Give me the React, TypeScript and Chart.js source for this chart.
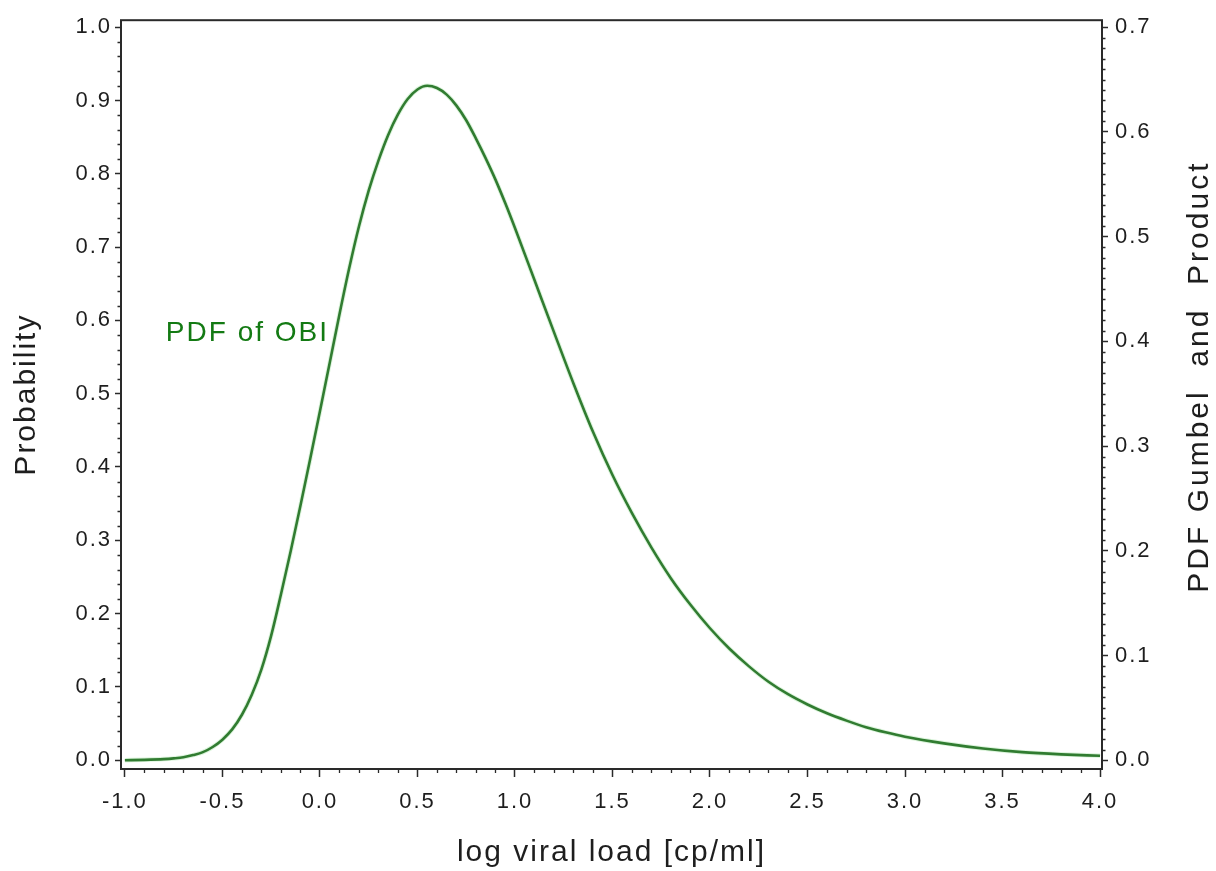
import React, { useEffect, useRef } from 'react';
import { Chart, registerables } from 'chart.js';

Chart.register(...registerables);

// ---- data ----
const LOG_VL = [
  -1.0, -0.9, -0.8, -0.75, -0.7, -0.65, -0.6, -0.55, -0.5, -0.45, -0.4, -0.35, -0.3, -0.25,
  -0.2, -0.15, -0.1, -0.05, 0.0, 0.05, 0.1, 0.15, 0.2, 0.25, 0.3, 0.35, 0.4, 0.45,
  0.5, 0.55, 0.6, 0.65, 0.7, 0.75, 0.8, 0.85, 0.9, 0.95,
  1.0, 1.1, 1.2, 1.3, 1.4, 1.5, 1.6, 1.7, 1.8, 1.9,
  2.0, 2.1, 2.2, 2.3, 2.4, 2.5, 2.6, 2.7, 2.8, 2.9,
  3.0, 3.2, 3.4, 3.6, 3.8, 4.0,
];
const PDF_OBI = [
  0.000, 0.0005, 0.0015, 0.0025, 0.004, 0.007, 0.011, 0.018, 0.028, 0.042, 0.062, 0.089, 0.124, 0.170,
  0.226, 0.285, 0.347, 0.411, 0.476, 0.542, 0.608, 0.671, 0.728, 0.777, 0.818, 0.853, 0.881, 0.902,
  0.915, 0.920, 0.917, 0.908, 0.893, 0.873, 0.848, 0.821, 0.792, 0.760,
  0.726, 0.655, 0.584, 0.514, 0.448, 0.389, 0.337, 0.290, 0.248, 0.212,
  0.180, 0.152, 0.128, 0.107, 0.090, 0.076, 0.064, 0.054, 0.045, 0.038,
  0.032, 0.023, 0.016, 0.011, 0.008, 0.006,
];

const X_TICKS = [-1.0, -0.5, 0.0, 0.5, 1.0, 1.5, 2.0, 2.5, 3.0, 3.5, 4.0];
const Y_TICKS = [0.0, 0.1, 0.2, 0.3, 0.4, 0.5, 0.6, 0.7, 0.8, 0.9, 1.0];
const Y1_TICKS = [0.0, 0.1, 0.2, 0.3, 0.4, 0.5, 0.6, 0.7];

const X_MIN = -1.02;
const X_MAX = 4.01;
const Y_MIN = -0.012;
const Y_MAX = 1.0095;
const RIGHT_FACTOR = 0.7;

const X_MINOR = { from: -1.0, step: 0.1, count: 50, every: 5 };
const Y_MINOR = { from: 0.0, step: 0.02, count: 50, every: 5 };
const Y1_MINOR = { from: 0.0, step: 0.01, count: 70, every: 10 };

const X_TITLE = 'log viral load [cp/ml]';
const Y_TITLE = 'Probability';
const Y1_TITLE = 'PDF Gumbel  and  Product';
const CURVE_LABEL = 'PDF of OBI';
const CURVE_LABEL_AT = { x: -0.79, y: 0.572 };

const FONT = "'Liberation Sans', Arial, Helvetica, sans-serif";
const INK = '#1e1e1e';
const AXIS = '#2a2a2a';
const GREEN_LINE = '#1d5f1d';
const GREEN_HALO = 'rgba(110, 210, 110, 0.25)';
const GREEN_TEXT = '#137a13';

const setSpacing = (ctx: any, v: string) => {
  try { ctx.letterSpacing = v; } catch (e) {}
};

const spacingPlugin = {
  id: 'spacing',
  beforeDraw(chart: any) { setSpacing(chart.ctx, '2px'); },
};

const decorPlugin = {
  id: 'decor',
  afterDraw(chart: any) {
    const { ctx, chartArea } = chart;
    const x = chart.scales.x;
    const y = chart.scales.y;
    const y1 = chart.scales.y1;
    ctx.save();
    // frame
    ctx.strokeStyle = AXIS;
    ctx.lineWidth = 2;
    ctx.strokeRect(chartArea.left, chartArea.top, chartArea.right - chartArea.left, chartArea.bottom - chartArea.top);

    // minor ticks
    ctx.lineWidth = 1.3;
    ctx.beginPath();
    for (let i = 0; i <= X_MINOR.count; i++) {
      if (i % X_MINOR.every === 0) continue;
      const px = Math.round(x.getPixelForValue(X_MINOR.from + i * X_MINOR.step)) + 0.5;
      ctx.moveTo(px, chartArea.bottom);
      ctx.lineTo(px, chartArea.bottom + 4);
    }
    for (let i = 0; i <= Y_MINOR.count; i++) {
      if (i % Y_MINOR.every === 0) continue;
      const py = Math.round(y.getPixelForValue(Y_MINOR.from + i * Y_MINOR.step)) + 0.5;
      ctx.moveTo(chartArea.left, py);
      ctx.lineTo(chartArea.left - 3.5, py);
    }
    for (let i = 0; i <= Y1_MINOR.count; i++) {
      if (i % Y1_MINOR.every === 0) continue;
      const py = Math.round(y1.getPixelForValue(Y1_MINOR.from + i * Y1_MINOR.step)) + 0.5;
      ctx.moveTo(chartArea.right, py);
      ctx.lineTo(chartArea.right + 3.5, py);
    }
    ctx.stroke();

    // curve label
    setSpacing(ctx, '2px');
    ctx.fillStyle = GREEN_TEXT;
    ctx.font = `28px ${FONT}`;
    ctx.textAlign = 'left';
    ctx.textBaseline = 'alphabetic';
    ctx.fillText(CURVE_LABEL, x.getPixelForValue(CURVE_LABEL_AT.x), y.getPixelForValue(CURVE_LABEL_AT.y));

    // right axis title (reads bottom-to-top)
    setSpacing(ctx, '3px');
    ctx.fillStyle = INK;
    ctx.font = `30px ${FONT}`;
    ctx.textAlign = 'center';
    ctx.textBaseline = 'middle';
    ctx.translate(y1.right - 16, (chartArea.top + chartArea.bottom) / 2 - 18);
    ctx.rotate(-Math.PI / 2);
    ctx.fillText(Y1_TITLE, 0, 0);
    ctx.restore();
    setSpacing(ctx, '0px');
  },
};

export default function App() {
  const ref = useRef<HTMLCanvasElement | null>(null);

  useEffect(() => {
    if (!ref.current) return;
    const points = LOG_VL.map((v, i) => ({ x: v, y: PDF_OBI[i] }));
    const tickFont = { family: FONT, size: 22 };
    const chart = new Chart(ref.current, {
      type: 'line',
      data: {
        datasets: [
          {
            label: 'halo',
            data: points,
            borderColor: GREEN_HALO,
            borderWidth: 4.5,
            pointRadius: 0,
            cubicInterpolationMode: 'monotone',
            yAxisID: 'y',
          },
          {
            label: CURVE_LABEL,
            data: points,
            borderColor: GREEN_LINE,
            borderWidth: 2.6,
            pointRadius: 0,
            cubicInterpolationMode: 'monotone',
            yAxisID: 'y',
          },
        ],
      },
      options: {
        animation: false,
        responsive: false,
        devicePixelRatio: 1,
        layout: { padding: { top: 13, left: 0, right: 0, bottom: 0 } },
        plugins: { legend: { display: false }, tooltip: { enabled: false } },
        scales: {
          x: {
            type: 'linear',
            min: X_MIN,
            max: X_MAX,
            afterBuildTicks: (s: any) => { s.ticks = X_TICKS.map((v) => ({ value: v })); },
            afterFit: (s: any) => { s.height = 102; },
            ticks: {
              font: tickFont,
              color: INK,
              padding: 12,
              maxRotation: 0,
              autoSkip: false,
              callback: (v: any) => Number(v).toFixed(1),
            },
            grid: { drawOnChartArea: false, drawTicks: true, tickLength: 8, tickColor: AXIS, tickWidth: 1.5 },
            border: { display: false },
            title: { display: true, text: X_TITLE, font: { family: FONT, size: 30 }, color: INK, padding: { top: 0, bottom: 0 } },
          },
          y: {
            type: 'linear',
            position: 'left',
            min: Y_MIN,
            max: Y_MAX,
            afterBuildTicks: (s: any) => { s.ticks = Y_TICKS.map((v) => ({ value: v })); },
            afterFit: (s: any) => { s.width = 121; },
            ticks: {
              font: tickFont,
              color: INK,
              padding: 3,
              autoSkip: false,
              callback: (v: any) => Number(v).toFixed(1),
            },
            grid: { drawOnChartArea: false, drawTicks: true, tickLength: 6, tickColor: AXIS, tickWidth: 1.5 },
            border: { display: false },
            title: { display: true, text: Y_TITLE, font: { family: FONT, size: 30 }, color: INK, padding: { top: 9, bottom: 0 } },
          },
          y1: {
            type: 'linear',
            position: 'right',
            min: Y_MIN * RIGHT_FACTOR,
            max: Y_MAX * RIGHT_FACTOR,
            afterBuildTicks: (s: any) => { s.ticks = Y1_TICKS.map((v) => ({ value: v })); },
            afterFit: (s: any) => { s.width = 114; },
            ticks: {
              font: tickFont,
              color: INK,
              padding: 7,
              autoSkip: false,
              callback: (v: any) => Number(v).toFixed(1),
            },
            grid: { drawOnChartArea: false, drawTicks: true, tickLength: 6, tickColor: AXIS, tickWidth: 1.5 },
            border: { display: false },
            title: { display: false },
          },
        },
      } as any,
      plugins: [spacingPlugin, decorPlugin],
    });
    return () => chart.destroy();
  }, []);

  return (
    <div style={{ position: 'fixed', left: 0, top: 0, width: 1216, height: 871, background: '#ffffff' }}>
      <canvas ref={ref} width={1216} height={871} style={{ display: 'block', width: 1216, height: 871 }} />
    </div>
  );
}
